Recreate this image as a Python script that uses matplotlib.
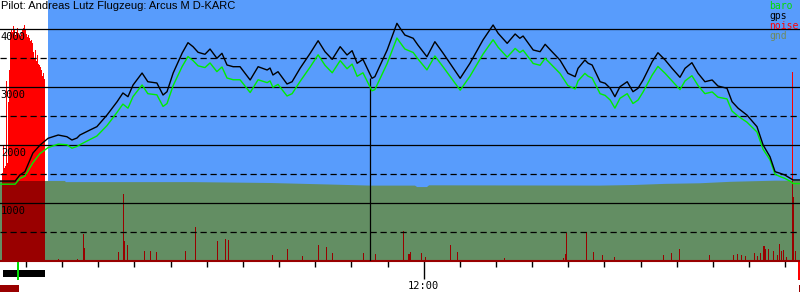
import numpy as np
import matplotlib.pyplot as plt
from matplotlib.patches import Rectangle
from matplotlib.transforms import blended_transform_factory

# Zeit in Minuten nach 10:00, Hoehen in m
title = "Pilot: Andreas Lutz Flugzeug: Arcus M D-KARC"

gps_t = [2.8, 7.0, 8.3, 9.7, 11.9, 13.9, 16.1, 18.9, 21.3, 22.7, 24.1, 24.9, 27.7, 29.6,
         32.4, 35.2, 36.8, 38.2, 39.6, 42.1, 43.7, 46.2, 47.9, 49.0, 50.7, 53.2, 54.8,
         56.2, 57.6, 59.5, 60.9, 62.8, 64.2, 65.6, 67.3, 69.2, 72.0, 74.2, 76.7, 77.5,
         78.3, 79.7, 82.2, 83.6, 85.8, 88.6, 90.8, 92.7, 94.7, 96.9, 98.8, 100.2, 101.6,
         103.2, 105.7, 106.5, 109.9, 112.6, 113.5, 114.8, 117.1, 118.4, 120.9, 123.1,
         125.4, 130.1, 132.8, 136.4, 139.2, 140.6, 143.1, 145.3, 146.6, 147.5, 150.3,
         152.2, 153.6, 155.5, 157.7, 159.9, 161.9, 162.7, 164.6, 165.5, 166.6, 168.8,
         170.2, 171.6, 172.9, 174.3, 176.3, 177.9, 179.3, 180.7, 183.2, 184.8, 186.8,
         188.7, 190.9, 192.3, 194.2, 195.9, 197.8, 199.8, 201.4, 203.9, 205.3, 207.0,
         209.4, 212.2, 213.9, 215.8, 217.2, 218.6, 219.9, 221.4, 222.2, 224.1]
gps = [1384, 1384, 1488, 1545, 1867, 2005, 2121, 2177, 2148, 2091, 2126, 2177, 2264, 2321,
       2522, 2752, 2902, 2838, 3039, 3246, 3096, 3074, 2867, 2924, 3246, 3591, 3769,
       3700, 3603, 3569, 3660, 3500, 3586, 3384, 3355, 3355, 3126, 3355, 3298, 3332,
       3212, 3269, 3057, 3096, 3327, 3586, 3803, 3614, 3482, 3700, 3557, 3631, 3414,
       3482, 3155, 3183, 3643, 4103, 4017, 3901, 3845, 3729, 3527, 3786,
       3586, 3155, 3414, 3815, 4074, 3931, 3758, 3919, 3845, 3884, 3643,
       3614, 3741, 3614, 3470, 3241, 3183, 3327, 3470, 3414, 3384, 3096,
       3069, 2983, 2838, 3010, 3096, 2924, 2983, 3126, 3441, 3596, 3470,
       3327, 3172, 3327, 3424, 3241, 3096, 3126, 3022, 2983, 2752, 2638,
       2522, 2321, 2005, 1803, 1545, 1517, 1488, 1431, 1402, 1402]
baro = [1330, 1330, 1430, 1470, 1700, 1860, 1960, 2020, 2010, 1950, 1980, 2010, 2100, 2160,
        2340, 2570, 2710, 2640, 2840, 3040, 2890, 2870, 2670, 2720, 3030, 3360, 3530,
        3460, 3370, 3340, 3420, 3270, 3350, 3160, 3130, 3130, 2910, 3130, 3080, 3110,
        3000, 3050, 2850, 2890, 3100, 3350, 3560, 3380, 3250, 3460, 3320, 3400, 3190,
        3250, 2940, 2960, 3410, 3850, 3770, 3660, 3600, 3490, 3300, 3540,
        3350, 2950, 3190, 3570, 3820, 3690, 3520, 3670, 3600, 3640, 3410,
        3380, 3500, 3380, 3240, 3030, 2970, 3110, 3240, 3190, 3160, 2890,
        2860, 2780, 2640, 2810, 2890, 2720, 2780, 2920, 3210, 3360, 3240,
        3110, 2960, 3110, 3200, 3030, 2890, 2920, 2830, 2800, 2590, 2500,
        2400, 2230, 1930, 1750, 1500, 1460, 1430, 1380, 1340, 1340]

gnd_t = [2.8, 20.8, 21.0, 56.2, 77.5, 96.3, 105.2, 117.6, 118.2, 120.9, 121.5, 168.8,
         177.9, 186.8, 196.4, 204.7, 217.2, 224.1]
gnd = [1385, 1385, 1365, 1365, 1350, 1320, 1305, 1305, 1280, 1280, 1310, 1305,
       1315, 1335, 1345, 1370, 1390, 1390]

# Motorlaerm am Start, ein Wert pro Abtastung
engine_t0 = 3.36
engine_dt = 0.2766
engine_noise = [1520, 2000, 1600, 1650, 3100, 1700, 2750, 3300, 3950, 4000, 3950, 4050,
                3980, 3900, 3960, 4020, 3940, 3900, 3880, 3950, 3990, 4030, 4070, 4000,
                3920, 3870, 3900, 3850, 3800, 3820, 3760, 3600, 3500, 3650, 3450, 3550,
                3400, 3380, 3350, 3300, 3200, 3250, 3150]

noise_t = [18.9, 24.2, 25.8, 26.1, 35.5, 36.9, 37.2, 38.0, 42.7, 44.3, 46.0, 54.1, 56.8,
           62.9, 65.1, 66.0, 78.1, 82.3, 86.3, 90.7, 90.9, 93.0, 94.7, 103.3, 106.6,
           114.4, 115.8, 116.2, 119.3, 120.4, 127.4, 129.3, 142.3, 158.5, 159.2, 159.4,
           165.0, 166.8, 169.4, 172.7, 186.2, 188.5, 190.7, 199.0, 205.6, 206.7, 207.8,
           208.9, 211.5, 212.2, 213.0, 214.0, 214.4, 215.3, 216.7, 217.7, 218.4, 218.9,
           219.5, 220.2, 221.8, 222.1, 222.7]
noise = [40, 40, 470, 225, 160, 1160, 355, 280, 180, 180, 160, 180, 590,
         350, 385, 367, 100, 212, 90, 280, 280, 246, 150, 143, 120,
         522, 120, 160, 140, 80, 280, 160, 60, 60, 120, 493,
         505, 160, 100, 80, 100, 140, 212, 100, 110, 120, 100,
         90, 140, 90, 150, 264, 220, 212, 180, 100, 298, 180,
         190, 80, 3260, 1100, 170]

sky_start = 16.1
marker_t, marker_alt = 105.1, 3160
solid_levels = [1000, 2000, 3000, 4000]
dashed_levels = [500, 1500, 2500, 3500]

sky_c = '#589cfc'
gnd_c = '#638e63'
dred = '#990000'

all_t = np.concatenate([engine_t0 + engine_dt * np.arange(len(engine_noise)), noise_t])
all_n = np.concatenate([engine_noise, noise])
gnd_at = np.interp(all_t, gnd_t, gnd)

fig = plt.figure(figsize=(8, 3), dpi=100)
ax = fig.add_axes([0, 38.7 / 300, 1, 261.3 / 300])
ax.set_xlim(2.8, 224.1)
ax.set_ylim(0, 4505)

ax.axvspan(sky_start, 224.1, color=sky_c, lw=0, zorder=0)
ax.bar(all_t, all_n, width=0.28, align='edge', color='red', lw=0, antialiased=False, zorder=1)
ax.fill_between(gnd_t, 0, gnd, color=gnd_c, lw=0, zorder=2)
ax.bar(all_t, np.minimum(all_n, gnd_at), width=0.28, align='edge', color=dred, lw=0,
       antialiased=False, zorder=3)

for lv in solid_levels:
    ax.axhline(lv, color='black', lw=0.9, zorder=4)
    ax.text(0.001, lv - 45, str(lv), transform=blended_transform_factory(ax.transAxes, ax.transData),
            va='top', ha='left', fontsize=7.5, family='DejaVu Sans Mono', zorder=8)
for lv in dashed_levels:
    ax.axhline(lv, color='black', lw=0.9, ls=(0, (5, 3)), zorder=4)

ax.vlines(marker_t, 0, marker_alt, color='black', lw=0.9, zorder=5)
ax.plot(gps_t, baro, color='#00ee00', lw=1.0, zorder=6)
ax.plot(gps_t, gps, color='black', lw=1.0, zorder=7)

# Achse unten
for s in ['top', 'left', 'right']:
    ax.spines[s].set_visible(False)
ax.spines['bottom'].set_color(dred)
ax.spines['bottom'].set_linewidth(1.5)
ax.set_yticks([])
ax.set_xticks([120])
ax.set_xticklabels(['12:00'], family='DejaVu Sans Mono', fontsize=7.5)
ax.set_xticks(np.arange(10, 221, 10), minor=True)
ax.tick_params(axis='x', which='major', length=13, width=1, color='black', pad=1)
ax.tick_params(axis='x', which='minor', length=4.5, width=1, color='black')

# Markierungen unter der Achse
tr = blended_transform_factory(ax.transData, ax.transAxes)
ax.add_patch(Rectangle((3.6, -0.060), 11.7, 0.027, transform=tr, color='black', clip_on=False, lw=0))
ax.add_patch(Rectangle((7.5, -0.072), 0.6, 0.072, transform=tr, color='#00dd00', clip_on=False, lw=0))
ax.add_patch(Rectangle((2.8, -0.118), 5.3, 0.027, transform=tr, color=dred, clip_on=False, lw=0))
ax.add_patch(Rectangle((223.5, -0.072), 0.6, 0.072, transform=tr, color='red', clip_on=False, lw=0))
ax.add_patch(Rectangle((223.8, -0.118), 0.3, 0.027, transform=tr, color=dred, clip_on=False, lw=0))

fig.text(1 / 800, 1 - 1 / 300, title, ha='left', va='top', fontsize=8, family='Liberation Sans')
leg = [('baro', '#00dd00'), ('gps', 'black'), ('noise', 'red'), ('gnd', '#6f8a5f')]
for i, (name, c) in enumerate(leg):
    fig.text(769 / 800, 1 - (1 + 10 * i) / 300, name, color=c, ha='left', va='top',
             fontsize=7, family='DejaVu Sans Mono')

fig.savefig('out.png', dpi=100)
